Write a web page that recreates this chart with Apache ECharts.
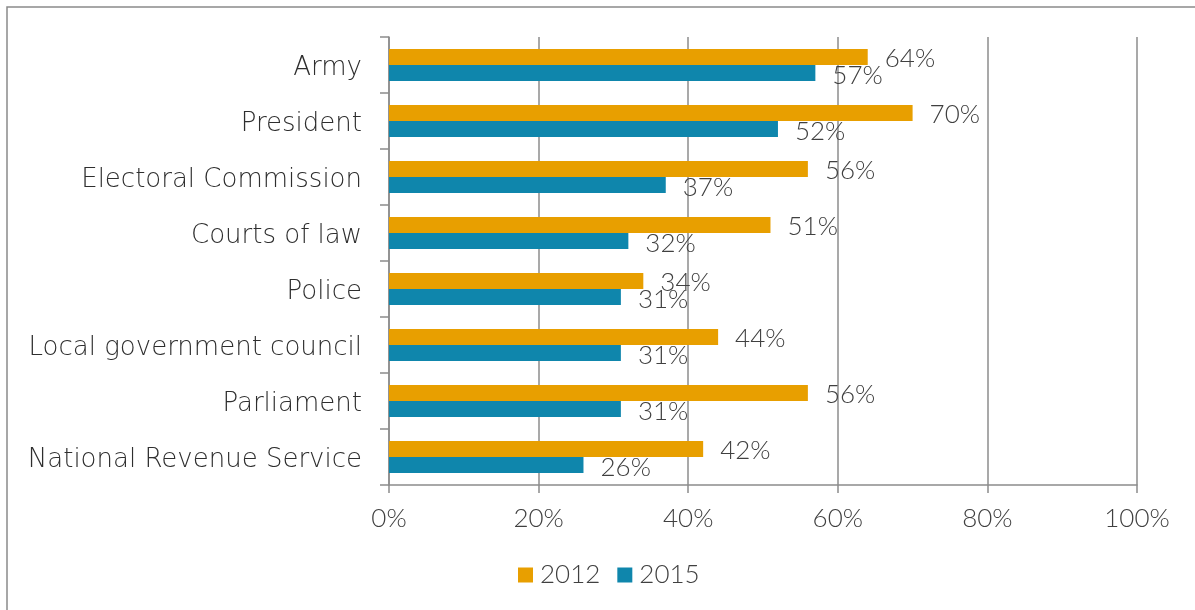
<!DOCTYPE html>
<html>
<head>
<meta charset="utf-8">
<script src="https://cdn.jsdelivr.net/npm/echarts@6/dist/echarts.min.js"></script>
<style>
  html, body { margin: 0; padding: 0; background: #ffffff; }
  #chart { width: 1195px; height: 610px; }
</style>
</head>
<body>
<div id="chart"></div>
<script>
// Institutions, listed top to bottom
const categories = [
  'Army',
  'President',
  'Electoral Commission',
  'Courts of law',
  'Police',
  'Local government council',
  'Parliament',
  'National Revenue Service'
];
const seriesNames = ['2012', '2015'];
const values2012 = [64, 70, 56, 51, 34, 44, 56, 42];
const values2015 = [57, 52, 37, 32, 31, 31, 31, 26];
const xTicks = [0, 20, 40, 60, 80, 100];

const NUM_FONT = 'Lato, "DejaVu Sans", sans-serif';
const CAT_FONT = '"DejaVu Sans", Lato, sans-serif';
const TEXT = '#404040';
const LINE = '#8c8c8c';
const ORANGE = '#E89F00';
const BLUE = '#0F86AC';

const chart = echarts.init(document.getElementById('chart'), null, { renderer: 'canvas' });

const valueLabel = (dy) => ({
  show: true,
  position: 'right',
  distance: 17,
  offset: [0, dy],
  formatter: p => p.value + '%',
  fontFamily: NUM_FONT,
  fontWeight: 300,
  fontSize: 26,
  color: TEXT
});

chart.setOption({
  animation: false,
  backgroundColor: '#ffffff',
  textStyle: { fontFamily: NUM_FONT, color: TEXT },
  graphic: [{
    type: 'rect',
    shape: { x: 7, y: 7, width: 1200, height: 620 },
    style: { fill: 'none', stroke: '#8a8a8a', lineWidth: 1.5 },
    silent: true,
    z: -10
  }],
  grid: { left: 389, right: 58, top: 37, bottom: 125, containLabel: false },
  legend: {
    data: seriesNames,
    left: 518,
    top: 562,
    padding: 0,
    itemWidth: 15,
    itemHeight: 15,
    itemGap: 17,
    icon: 'rect',
    textStyle: { fontFamily: NUM_FONT, fontWeight: 300, fontSize: 26, color: TEXT, padding: [0, 0, 0, 2] }
  },
  xAxis: {
    type: 'value',
    min: xTicks[0],
    max: xTicks[xTicks.length - 1],
    interval: 20,
    axisLine: { show: true, lineStyle: { color: LINE, width: 1.5 } },
    axisTick: { show: true, length: 8, lineStyle: { color: LINE, width: 1.5 } },
    splitLine: { show: true, lineStyle: { color: LINE, width: 1.5 } },
    axisLabel: {
      margin: 21,
      fontFamily: NUM_FONT,
      fontWeight: 300,
      fontSize: 26,
      color: TEXT,
      formatter: v => v + '%'
    }
  },
  yAxis: {
    type: 'category',
    data: categories,
    inverse: true,
    axisLine: { show: true, lineStyle: { color: LINE, width: 1.5 } },
    axisTick: { show: true, length: 9, alignWithLabel: false, lineStyle: { color: LINE, width: 1.5 } },
    splitLine: { show: false },
    axisLabel: {
      margin: 27,
      fontFamily: CAT_FONT,
      fontWeight: 200,
      fontSize: 26,
      color: '#2e2e2e',
      formatter: v => '{c|' + v + '}',
      rich: {
        c: {
          fontFamily: CAT_FONT,
          fontWeight: 200,
          fontSize: 26,
          color: '#2e2e2e',
          padding: [7, 0, 0, 0]
        }
      }
    }
  },
  series: [
    {
      name: seriesNames[0],
      type: 'bar',
      data: values2012,
      itemStyle: { color: ORANGE },
      barCategoryGap: '43%',
      barGap: '0%',
      label: valueLabel(2)
    },
    {
      name: seriesNames[1],
      type: 'bar',
      data: values2015,
      itemStyle: { color: BLUE },
      barCategoryGap: '43%',
      barGap: '0%',
      label: valueLabel(3)
    }
  ]
});
</script>
</body>
</html>
